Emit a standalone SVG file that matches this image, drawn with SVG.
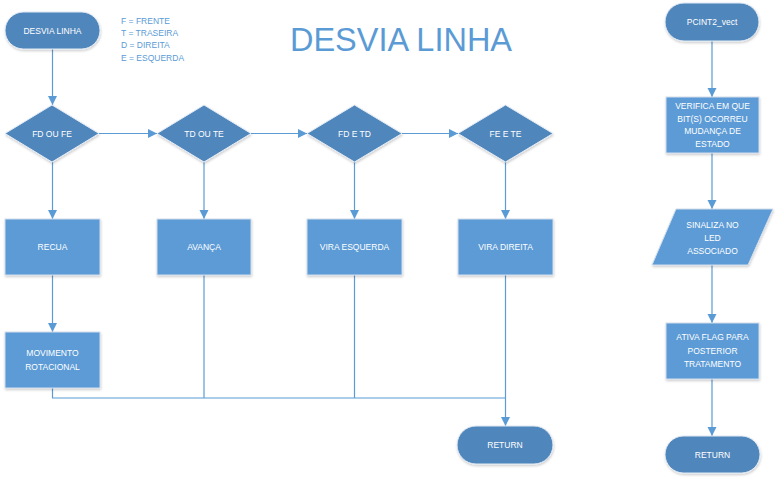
<svg xmlns="http://www.w3.org/2000/svg" width="780" height="481" viewBox="0 0 780 481">
<style>
.term{fill:#4f86bb;stroke:#e3ebf5;stroke-width:1;filter:url(#sh)}
.dia{fill:#4f86bb;stroke:#e3ebf5;stroke-width:1;filter:url(#sh)}
.box{fill:#5b9bd5;stroke:#d3deec;stroke-width:1;filter:url(#sh)}
.t{font-family:"Liberation Sans",Arial,sans-serif;font-size:8.5px;fill:#ffffff;text-anchor:middle}
.leg{font-family:"Liberation Sans",Arial,sans-serif;font-size:8.5px;fill:#5b9bd5}
.title{font-family:"Liberation Sans",Arial,sans-serif;font-size:33px;fill:#5b9bd5;text-anchor:middle}
.c{fill:none;stroke:#5b9bd5;stroke-width:1.2}
.ca{fill:none;stroke:#5b9bd5;stroke-width:1.2;marker-end:url(#ah)}
</style>
<defs>
<filter id="sh" x="-10%" y="-10%" width="130%" height="140%">
<feDropShadow dx="0.5" dy="1.5" stdDeviation="1.2" flood-color="#000" flood-opacity="0.2"/>
</filter>
<marker id="ah" markerUnits="userSpaceOnUse" markerWidth="10" markerHeight="10" viewBox="0 0 10 10" refX="9" refY="5" orient="auto">
<path d="M0,0.5 L9,5 L0,9.5 z" fill="#5b9bd5"/>
</marker>
</defs>
<rect width="780" height="481" fill="#ffffff"/>

<text class="title" x="401" y="51" textLength="222" lengthAdjust="spacingAndGlyphs">DESVIA LINHA</text>
<g id="legend">
<text class="leg" x="121" y="24">F = FRENTE</text>
<text class="leg" x="121" y="36">T = TRASEIRA</text>
<text class="leg" x="121" y="48">D = DIREITA</text>
<text class="leg" x="121" y="61">E = ESQUERDA</text>
</g>

<g id="connectors">
<line class="ca" x1="52.5" y1="49" x2="52.5" y2="105"/>
<line class="ca" x1="99" y1="133.5" x2="157" y2="133.5"/>
<line class="ca" x1="251" y1="133.5" x2="307" y2="133.5"/>
<line class="ca" x1="402" y1="133.5" x2="458" y2="133.5"/>
<line class="ca" x1="52.5" y1="162" x2="52.5" y2="219"/>
<line class="ca" x1="204" y1="162" x2="204" y2="219"/>
<line class="ca" x1="354.5" y1="162" x2="354.5" y2="219"/>
<line class="ca" x1="505.5" y1="162" x2="505.5" y2="219"/>
<line class="ca" x1="52.5" y1="275" x2="52.5" y2="332"/>
<polyline class="c" points="52.5,388 52.5,398 505.5,398"/>
<line class="c" x1="204" y1="275" x2="204" y2="398"/>
<line class="c" x1="354.5" y1="275" x2="354.5" y2="398"/>
<line class="ca" x1="505.5" y1="275" x2="505.5" y2="426"/>
<line class="ca" x1="712" y1="41" x2="712" y2="97"/>
<line class="ca" x1="712" y1="153" x2="712" y2="209"/>
<line class="ca" x1="712" y1="265" x2="712" y2="323"/>
<line class="ca" x1="712" y1="379" x2="712" y2="436"/>
</g>

<g id="desvia-linha">
<rect class="term" x="5" y="12" width="95" height="37" rx="18.5"/>
<text class="t" x="52.5" y="33.5">DESVIA LINHA</text>
</g>
<g id="fd-ou-fe">
<polygon class="dia" points="5,133.5 52,105 99,133.5 52,162"/>
<text class="t" x="52" y="136.5">FD OU FE</text>
</g>
<g id="td-ou-te">
<polygon class="dia" points="157,133.5 204,105 251,133.5 204,162"/>
<text class="t" x="204" y="136.5">TD OU TE</text>
</g>
<g id="fd-e-td">
<polygon class="dia" points="307,133.5 354.5,105 402,133.5 354.5,162"/>
<text class="t" x="354.5" y="136.5">FD E TD</text>
</g>
<g id="fe-e-te">
<polygon class="dia" points="458,133.5 505.5,105 553,133.5 505.5,162"/>
<text class="t" x="505.5" y="136.5">FE E TE</text>
</g>
<g id="recua">
<rect class="box" x="5" y="219" width="95" height="56"/>
<text class="t" x="52.5" y="250">RECUA</text>
</g>
<g id="avanca">
<rect class="box" x="157" y="219" width="94" height="56"/>
<text class="t" x="204" y="250">AVANÇA</text>
</g>
<g id="vira-esquerda">
<rect class="box" x="307" y="219" width="95" height="56"/>
<text class="t" x="354.5" y="250">VIRA ESQUERDA</text>
</g>
<g id="vira-direita">
<rect class="box" x="458" y="219" width="95" height="56"/>
<text class="t" x="505.5" y="250">VIRA DIREITA</text>
</g>
<g id="movimento-rotacional">
<rect class="box" x="5" y="332" width="95" height="56"/>
<text class="t" x="52.5" y="356">MOVIMENTO</text>
<text class="t" x="52.5" y="369.5">ROTACIONAL</text>
</g>
<g id="return-left">
<rect class="term" x="457" y="426" width="96" height="38" rx="19"/>
<text class="t" x="505" y="448">RETURN</text>
</g>

<g id="pcint2-vect">
<rect class="term" x="665" y="3" width="94" height="38" rx="19"/>
<text class="t" x="712" y="25">PCINT2_vect</text>
</g>
<g id="verifica">
<rect class="box" x="666" y="97" width="93" height="56"/>
<text class="t" x="712.5" y="109">VERIFICA EM QUE</text>
<text class="t" x="712.5" y="121.5">BIT(S) OCORREU</text>
<text class="t" x="712.5" y="134">MUDANÇA DE</text>
<text class="t" x="712.5" y="146.5">ESTADO</text>
</g>
<g id="sinaliza">
<polygon class="box" points="676,209 773,209 748,265 652,265"/>
<text class="t" x="712.5" y="228">SINALIZA NO</text>
<text class="t" x="712.5" y="241">LED</text>
<text class="t" x="712.5" y="254">ASSOCIADO</text>
</g>
<g id="ativa-flag">
<rect class="box" x="666" y="323" width="93" height="56"/>
<text class="t" x="712.5" y="340">ATIVA FLAG PARA</text>
<text class="t" x="712.5" y="353.5">POSTERIOR</text>
<text class="t" x="712.5" y="367">TRATAMENTO</text>
</g>
<g id="return-right">
<rect class="term" x="665" y="436" width="95" height="37" rx="18.5"/>
<text class="t" x="712.5" y="457.5">RETURN</text>
</g>
</svg>
